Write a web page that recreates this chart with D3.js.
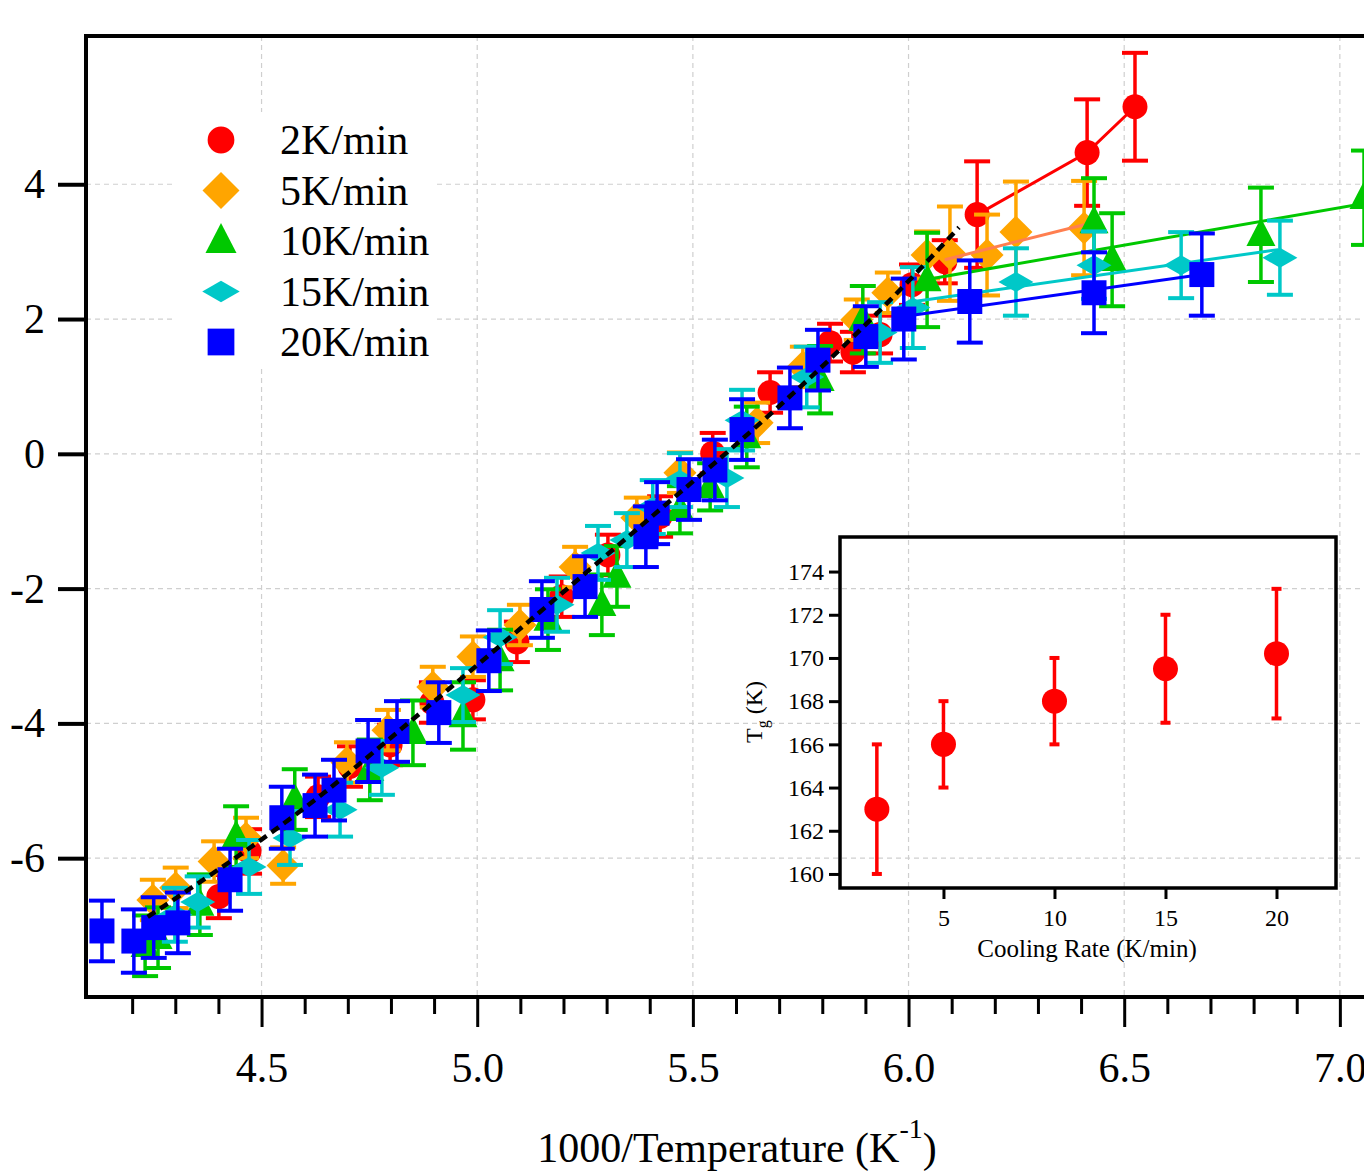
<!DOCTYPE html>
<html>
<head>
<meta charset="utf-8">
<script src="https://cdn.jsdelivr.net/npm/d3@7"></script>
<style>
  body { margin: 0; background: #fff; }
  svg { display: block; }
  text { font-family: "Liberation Serif", "Times New Roman", serif; fill: #000; }
</style>
</head>
<body>
<svg id="chart" width="1364" height="1176"></svg>
<script>
// [1000/T, value, error]
const rate2 = [[4.401,-6.57,0.32],[4.471,-5.90,0.33],[4.631,-5.09,0.30],[4.705,-4.64,0.30],[4.798,-4.32,0.30],
  [4.895,-3.69,0.30],[4.990,-3.65,0.29],[5.092,-2.79,0.30],[5.196,-2.12,0.30],[5.303,-1.50,0.30],[5.424,-0.93,0.30],
  [5.546,0.01,0.30],[5.679,0.91,0.30],[5.818,1.65,0.28],[5.871,1.51,0.30],[5.934,1.77,0.28],[6.008,2.51,0.30],
  [6.084,2.85,0.32],[6.159,3.55,0.79],[6.414,4.47,0.79],[6.525,5.15,0.80]]
const rate5 = [[4.248,-6.62,0.30],[4.301,-6.44,0.30],[4.390,-6.05,0.30],[4.464,-5.70,0.30],[4.550,-6.11,0.27],
  [4.698,-4.58,0.30],[4.793,-4.10,0.30],[4.897,-3.46,0.30],[4.990,-3.01,0.30],[5.099,-2.54,0.30],[5.227,-1.68,0.30],
  [5.370,-0.95,0.30],[5.470,-0.28,0.30],[5.649,0.46,0.30],[5.755,1.29,0.30],[5.880,1.99,0.30],[5.952,2.39,0.30],
  [6.043,2.95,0.35],[6.096,2.97,0.70],[6.182,2.95,0.60],[6.249,3.29,0.75],[6.407,3.35,0.70]]
const rate10 = [[4.230,-7.30,0.45],[4.260,-7.18,0.45],[4.357,-6.69,0.45],[4.441,-5.68,0.45],[4.577,-5.13,0.45],
  [4.751,-4.69,0.45],[4.851,-4.14,0.48],[4.967,-3.89,0.50],[5.053,-3.06,0.45],[5.164,-2.46,0.45],[5.289,-2.24,0.45],
  [5.324,-1.82,0.45],[5.470,-0.83,0.35],[5.540,-0.49,0.35],[5.625,0.25,0.45],[5.795,1.10,0.50],[5.894,1.99,0.50],
  [6.043,2.58,0.70],[6.430,3.44,0.65],[6.472,2.88,0.69],[6.817,3.25,0.70],[7.056,3.80,0.70]]
const rate15 = [[4.299,-6.84,0.40],[4.352,-6.65,0.38],[4.471,-6.13,0.40],[4.566,-5.70,0.40],[4.682,-5.28,0.40],
  [4.779,-4.66,0.40],[4.967,-3.58,0.40],[5.053,-2.72,0.40],[5.185,-2.24,0.40],[5.280,-1.47,0.40],[5.347,-1.28,0.40],
  [5.407,-0.79,0.40],[5.470,-0.39,0.40],[5.579,-0.36,0.43],[5.614,0.50,0.45],[5.764,1.14,0.45],[5.934,1.80,0.45],
  [6.010,2.17,0.60],[6.249,2.55,0.50],[6.430,2.80,0.50],[6.632,2.80,0.49],[6.861,2.91,0.55]]
const rate20 = [[4.130,-7.08,0.45],[4.204,-7.23,0.47],[4.250,-7.03,0.45],[4.306,-6.96,0.45],[4.427,-6.32,0.46],
  [4.547,-5.40,0.46],[4.624,-5.22,0.46],[4.668,-4.99,0.45],[4.747,-4.41,0.46],[4.814,-4.12,0.45],[4.911,-3.84,0.45],
  [5.027,-3.07,0.45],[5.150,-2.31,0.42],[5.250,-1.97,0.45],[5.391,-1.23,0.45],[5.417,-0.88,0.46],[5.491,-0.53,0.45],
  [5.551,-0.24,0.45],[5.614,0.36,0.45],[5.725,0.83,0.45],[5.790,1.39,0.45],[5.901,1.74,0.45],[5.989,2.00,0.60],
  [6.142,2.26,0.61],[6.430,2.39,0.60],[6.680,2.66,0.61]]

// glassy-region lines
const line2 = [[6.159,3.55],[6.414,4.47],[6.525,5.15]]
const line5 = [[6.084,2.88],[6.407,3.40]]
const line10 = [[6.036,2.58],[7.060,3.72]]
const line15 = [[6.013,2.26],[6.857,3.03]]
const line20 = [[6.013,2.06],[6.680,2.66]]

// dashed fit through the liquid region
const fitCurve = [[4.236,-6.87],[4.682,-4.84],[4.774,-4.35],[5.458,-0.64],[5.586,0.06],[5.957,2.28],[6.117,3.36]]

const seriesNames = ['2K/min', '5K/min', '10K/min', '15K/min', '20K/min']
const seriesData = [rate2, rate5, rate10, rate15, rate20]
const seriesLines = [line2, line5, line10, line15, line20]
const seriesColors = ['#ff0000', '#ffa500', '#00c800', '#00c8c8', '#0000ff']
const lineColors = ['#ff0000', '#ff7f50', '#00c800', '#00c8c8', '#0000ff']
const seriesShapes = ['circle', 'diamond', 'triangle', 'flatDiamond', 'square']

const xTicks = [4.5, 5.0, 5.5, 6.0, 6.5, 7.0]
const xMinorTicks = d3.range(42, 71).map(d => d / 10).filter(d => !xTicks.includes(d))
const yTicks = [-6, -4, -2, 0, 2, 4]

// inset: Tg vs cooling rate
const insetRate = [2, 5, 10, 15, 20]
const insetTg = [163, 166, 168, 169.5, 170.2]
const insetErr = [3, 2, 2, 2.5, 3]
const insetYTicks = [160, 162, 164, 166, 168, 170, 172, 174]
const insetXTicks = [5, 10, 15, 20]

const svg = d3.select('#chart')

const x = d3.scaleLinear().domain([4.093, 7.1]).range([86, 1383])
const y = d3.scaleLinear().domain([-8.06, 6.2]).range([997, 36])

const shapePath = (shape, k) => {
  if (shape === 'circle') {
    const r = 12.5 * k
    return `M${-r},0A${r},${r} 0 1,0 ${r},0A${r},${r} 0 1,0 ${-r},0Z`
  }
  if (shape === 'square') {
    const a = 25 * k
    return `M${-a / 2},${-a / 2}h${a}v${a}h${-a}Z`
  }
  if (shape === 'diamond') {
    const w = 16.5 * k, h = 16.5 * k
    return `M0,${-h}L${w},0L0,${h}L${-w},0Z`
  }
  if (shape === 'flatDiamond') {
    const w = 17.5 * k, h = 10 * k
    return `M0,${-h}L${w},0L0,${h}L${-w},0Z`
  }
  const w = 29 * k, h = 28 * k
  return `M0,${-h * 0.6}L${w / 2},${h * 0.4}L${-w / 2},${h * 0.4}Z`
}

// grid
const grid = svg.append('g').attr('stroke', '#cfcfcf').attr('stroke-width', 1.2).attr('stroke-dasharray', '5,4')
grid.selectAll('.gx').data(xTicks).join('line')
  .attr('x1', d => x(d)).attr('x2', d => x(d)).attr('y1', 36).attr('y2', 997)
grid.selectAll('.gy').data(yTicks).join('line')
  .attr('x1', 86).attr('x2', 1383).attr('y1', d => y(d)).attr('y2', d => y(d))

// series
seriesData.forEach((pts, i) => {
  const g = svg.append('g')
  const col = seriesColors[i]
  g.selectAll('line.bar').data(pts).join('line')
    .attr('x1', d => x(d[0])).attr('x2', d => x(d[0]))
    .attr('y1', d => y(d[1] - d[2])).attr('y2', d => y(d[1] + d[2]))
    .attr('stroke', col).attr('stroke-width', 3.5)
  ;[-1, 1].forEach(sgn => {
    g.selectAll(null).data(pts).join('line')
      .attr('x1', d => x(d[0]) - 13).attr('x2', d => x(d[0]) + 13)
      .attr('y1', d => y(d[1] + sgn * d[2])).attr('y2', d => y(d[1] + sgn * d[2]))
      .attr('stroke', col).attr('stroke-width', 4)
  })
  g.selectAll('path.mk').data(pts).join('path')
    .attr('d', shapePath(seriesShapes[i], 1))
    .attr('transform', d => `translate(${x(d[0])},${y(d[1])})`)
    .attr('fill', col)
  g.append('path').datum(seriesLines[i])
    .attr('d', d3.line().x(d => x(d[0])).y(d => y(d[1])))
    .attr('fill', 'none').attr('stroke', lineColors[i]).attr('stroke-width', 3)
})

svg.append('path').datum(fitCurve)
  .attr('d', d3.line().x(d => x(d[0])).y(d => y(d[1])).curve(d3.curveMonotoneX))
  .attr('fill', 'none').attr('stroke', '#000').attr('stroke-width', 4.5).attr('stroke-dasharray', '9,6')

// axes
const xAxis = svg.append('g').attr('transform', 'translate(0,997)')
  .call(d3.axisBottom(x).tickValues(xTicks).tickSize(30).tickPadding(25).tickFormat(d3.format('.1f')))
xAxis.append('g')
  .call(d3.axisBottom(x).tickValues(xMinorTicks).tickSize(17).tickFormat(''))
xAxis.selectAll('.domain').remove()
xAxis.selectAll('line').attr('stroke', '#000').attr('stroke-width', 3)
xAxis.selectAll('text').attr('font-size', 42).attr('font-family', '"Liberation Serif", serif')

const yAxis = svg.append('g').attr('transform', 'translate(86,0)')
  .call(d3.axisLeft(y).tickValues(yTicks).tickSize(28).tickPadding(13).tickFormat(d => String(d)))
yAxis.select('.domain').remove()
yAxis.selectAll('line').attr('stroke', '#000').attr('stroke-width', 4)
yAxis.selectAll('text').attr('font-size', 42).attr('font-family', '"Liberation Serif", serif')

svg.append('rect').attr('x', 86).attr('y', 36).attr('width', 1297).attr('height', 961)
  .attr('fill', 'none').attr('stroke', '#000').attr('stroke-width', 4)

const title = svg.append('text').attr('x', 737).attr('y', 1162).attr('text-anchor', 'middle').attr('font-size', 42)
title.append('tspan').text('1000/Temperature (K')
title.append('tspan').attr('font-size', 28).attr('dy', -24).text('-1')
title.append('tspan').attr('dy', 24).text(')')

// legend
const legend = svg.append('g')
legend.append('rect').attr('x', 172).attr('y', 112).attr('width', 262).attr('height', 256).attr('fill', '#fff')
const ly = d3.scaleLinear().domain([0, 4]).range([140, 342])
seriesNames.forEach((name, i) => {
  legend.append('path').attr('d', shapePath(seriesShapes[i], i === 1 ? 1.12 : 1.07))
    .attr('transform', `translate(221,${ly(i)})`).attr('fill', seriesColors[i])
  legend.append('text').attr('x', 280).attr('y', ly(i) + 14).attr('font-size', 42).text(name)
})

// inset
const ix = d3.scaleLinear().domain([0.34, 22.68]).range([840, 1336])
const iy = d3.scaleLinear().domain([159.35, 175.6]).range([888, 537])
const inset = svg.append('g')
const ixAxis = inset.append('g').attr('transform', 'translate(0,888)')
  .call(d3.axisBottom(ix).tickValues(insetXTicks).tickSize(11).tickPadding(10))
const iyAxis = inset.append('g').attr('transform', 'translate(840,0)')
  .call(d3.axisLeft(iy).tickValues(insetYTicks).tickSize(11).tickPadding(5))
;[ixAxis, iyAxis].forEach(a => {
  a.select('.domain').remove()
  a.selectAll('line').attr('stroke', '#000').attr('stroke-width', 3)
  a.selectAll('text').attr('font-size', 24).attr('font-family', '"Liberation Serif", serif')
})
const insetPts = insetRate.map((r, i) => [r, insetTg[i], insetErr[i]])
inset.selectAll('line.ibar').data(insetPts).join('line')
  .attr('x1', d => ix(d[0])).attr('x2', d => ix(d[0]))
  .attr('y1', d => iy(d[1] - d[2])).attr('y2', d => iy(d[1] + d[2]))
  .attr('stroke', '#ff0000').attr('stroke-width', 3.5)
;[-1, 1].forEach(sgn => {
  inset.selectAll(null).data(insetPts).join('line')
    .attr('x1', d => ix(d[0]) - 5).attr('x2', d => ix(d[0]) + 5)
    .attr('y1', d => iy(d[1] + sgn * d[2])).attr('y2', d => iy(d[1] + sgn * d[2]))
    .attr('stroke', '#ff0000').attr('stroke-width', 4)
})
inset.selectAll('circle').data(insetPts).join('circle')
  .attr('cx', d => ix(d[0])).attr('cy', d => iy(d[1])).attr('r', 12.5).attr('fill', '#ff0000')
inset.append('rect').attr('x', 840).attr('y', 537).attr('width', 496).attr('height', 351)
  .attr('fill', 'none').attr('stroke', '#000').attr('stroke-width', 3.5)
inset.append('text').attr('x', 1087).attr('y', 957).attr('text-anchor', 'middle').attr('font-size', 25)
  .text('Cooling Rate (K/min)')
const tg = inset.append('text').attr('transform', 'translate(762,712) rotate(-90)')
  .attr('text-anchor', 'middle').attr('font-size', 24)
tg.append('tspan').text('T')
tg.append('tspan').attr('font-size', 16).attr('dy', 6).text('g')
tg.append('tspan').attr('dy', -6).text(' (K)')
</script>
</body>
</html>
